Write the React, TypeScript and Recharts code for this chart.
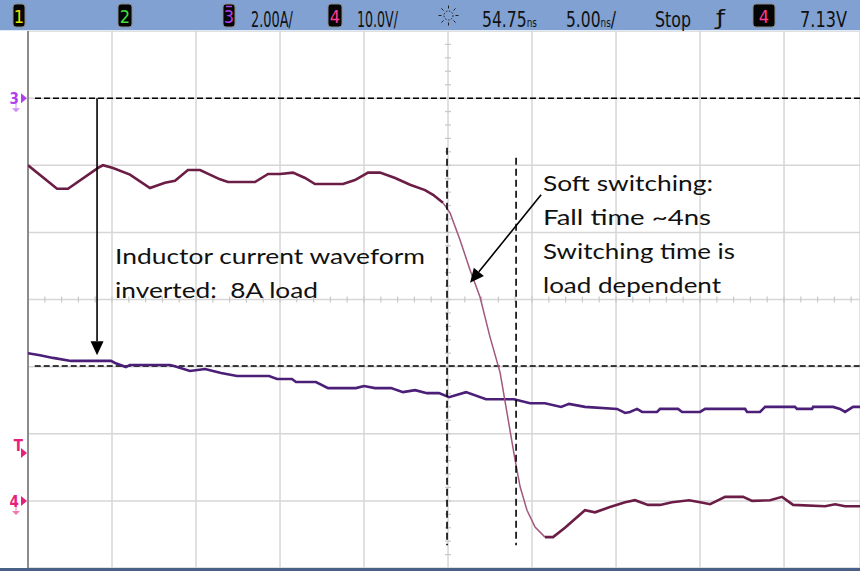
import React, { useLayoutEffect, useRef, useState } from "react";
import { LineChart, Line, XAxis, YAxis, CartesianGrid, ReferenceLine } from "recharts";

// time base: ns from trigger (5 ns/div), ch4 = switch node in V (10 V/div), ch3 = inverted inductor current in A (2 A/div)
const timeTicks = [-25, -20, -15, -10, -5, 0, 5, 10, 15, 20];
const ampTicks = [-14, -12, -10, -8, -6, -4, -2, 0, 2];

const vTime = [
  -25, -23.27, -22.62, -20.83, -20.54, -19.94, -18.93, -17.74, -16.85, -16.25, -15.48, -14.76,
  -13.57, -13.1, -11.49, -10.71, -10, -9.23, -8.51, -7.92, -6.25, -5.54, -4.76, -4.05, -3.15,
  -2.26, -1.37, -0.89, -0.3, 0.12, 0.71, 1.31, 1.9, 2.5, 3.1, 3.51, 3.99, 4.29, 4.7, 5.18, 5.77,
  6.25, 6.96, 8.15, 8.75, 9.64, 10.54, 11.13, 11.9, 12.62, 13.33, 14.35, 15, 15.6, 16.49, 17.56,
  18.1, 19.17, 19.88, 20.54, 22.44, 23.04, 23.63, 24.52,
];
const vVolts = [
  50, 46.5, 46.5, 49.6, 50, 49.6, 48.6, 46.6, 47.4, 47.7, 49.3, 49.3, 47.9, 47.5, 47.5, 48.7, 48.7,
  48.9, 48.1, 47.2, 47.2, 47.8, 48.9, 48.9, 48.1, 47.1, 46.3, 45.6, 44.4, 42.9, 38.9, 34.4, 30.4,
  24.4, 19.1, 13.1, 6.1, 2.1, -1.4, -3.9, -5.4, -5.4, -4.0, -1.4, -1.7, -0.9, -0.2, 0.1, -0.6, -0.6,
  -0.2, 0.1, -0.2, -0.5, 0.6, 0.6, 0.0, 0.1, 0.6, -0.6, -0.8, -0.5, -0.8, -0.8,
];

const iTime = [
  -25, -24.29, -23.51, -22.44, -20.06, -19.82, -19.17, -18.93, -16.55, -16.31, -15.36, -14.46,
  -13.51, -12.56, -10.65, -10.18, -9.29, -9.05, -7.86, -7.14, -5.48, -5.0, -4.35, -3.39, -2.68,
  -1.96, -1.25, -0.54, 0.06, 1.07, 2.26, 3.93, 4.88, 5.77, 6.73, 7.2, 8.15, 10.06, 10.54, 10.83,
  11.25, 11.55, 12.44, 12.62, 13.69, 13.93, 15.0, 15.3, 17.68, 17.8, 18.57, 18.87, 20.65, 20.77,
  21.67, 21.73, 22.92, 23.33, 23.63, 24.11, 24.52,
];
const iAmps = [
  -7.6, -7.66, -7.74, -7.83, -7.83, -7.89, -8.01, -7.95, -7.95, -7.98, -8.13, -8.07, -8.19, -8.28,
  -8.28, -8.37, -8.37, -8.46, -8.46, -8.64, -8.64, -8.58, -8.64, -8.64, -8.76, -8.7, -8.79, -8.79,
  -8.91, -8.76, -8.97, -8.97, -9.09, -9.09, -9.2, -9.11, -9.2, -9.26, -9.38, -9.35, -9.26, -9.35,
  -9.35, -9.26, -9.26, -9.35, -9.35, -9.26, -9.26, -9.35, -9.35, -9.2, -9.2, -9.26, -9.26, -9.2,
  -9.2, -9.26, -9.35, -9.2, -9.2,
];

const EDGE_START = -0.3;
const EDGE_END = 5.77;
const TRIG_LEVEL = 7.13;
const LOAD_AMPS = -7.98;

const VTRACE = "#6c1d46";
const ITRACE = "#4b1f78";
const CH3 = "#b040ee";
const CH4 = "#e8207c";
const ORANGE = "#f08a1c";

const arrowShape = (p: any) => {
  const { x1, y1, x2, y2 } = p;
  const a = Math.atan2(y2 - y1, x2 - x1);
  const len = 14;
  const half = 6.5;
  const bx = x2 - len * Math.cos(a);
  const by = y2 - len * Math.sin(a);
  const nx = -Math.sin(a) * half;
  const ny = Math.cos(a) * half;
  return (
    <g>
      <line x1={x1} y1={y1} x2={bx} y2={by} stroke="#000" strokeWidth={1.6} />
      <polygon points={`${x2},${y2} ${bx + nx},${by + ny} ${bx - nx},${by - ny}`} fill="#000" />
    </g>
  );
};

// channel ground / trigger markers drawn on the left edge of the graticule
const chMarker = (label: string, color: string, dashed: boolean, ground: boolean) => (p: any) => {
  const { x1, y1, x2 } = p;
  const isT = label === "T";
  return (
    <g>
      {dashed && (
        <line x1={x1 + 7} y1={y1} x2={x2} y2={y1} stroke="#000" strokeWidth={1.5} strokeDasharray="6 3" />
      )}
      <text
        x={x1 - (isT ? 5 : 9)}
        y={isT ? y1 - 2 : y1 + 6}
        textAnchor="end"
        fontSize={15}
        fontWeight="bold"
        fontFamily="DejaVu Sans Condensed, sans-serif"
        fill={color}
      >
        {label}
      </text>
      <polygon points={`${x1 - 7},${y1 - 5} ${x1 - 1},${y1} ${x1 - 7},${y1 + 5}`} fill={color} />
      {ground && (
        <g stroke={color} strokeOpacity={0.6} fill={color} fillOpacity={0.6}>
          <line x1={x1 - 12} y1={y1 + 5} x2={x1 - 12} y2={y1 + 10} strokeWidth={1} />
          <polygon points={`${x1 - 16},${y1 + 10} ${x1 - 8},${y1 + 10} ${x1 - 12},${y1 + 14}`} stroke="none" />
        </g>
      )}
    </g>
  );
};

const leftEdge = (p: any) => {
  const { x1, y1, y2 } = p;
  return (
    <g>
      <line x1={x1} y1={y1} x2={x1} y2={y2} stroke="#8c8c8c" strokeWidth={2} />
      <path d={`M${x1 + 1},${y1} L${x1 + 6},${y1} L${x1 + 6},${y1 + 2} L${x1 + 3},${y1 + 2} L${x1 + 3},${y1 + 6} L${x1 + 1},${y1 + 6} Z`} fill={ORANGE} />
    </g>
  );
};

// center graticule lines carry minor ticks (5 per division)
const centerV = (p: any) => {
  const { x1, y1, y2 } = p;
  const step = (y2 - y1) / 40;
  const ticks = [];
  for (let k = 1; k < 40; k++) {
    const y = y1 + k * step;
    ticks.push(<line key={k} x1={x1 - 3} x2={x1 + 3} y1={y} y2={y} stroke="#c8c8c8" strokeWidth={1.2} />);
  }
  return (
    <g>
      {ticks}
      <path d={`M${x1 - 5},${y1 + 1} L${x1 + 4},${y1 + 1} L${x1 - 0.5},${y1 + 8} Z`} fill="none" stroke={ORANGE} strokeWidth={1.5} />
    </g>
  );
};

const centerH = (p: any) => {
  const { x1, x2, y1 } = p;
  const step = 16.8;
  const ticks = [];
  for (let x = x1 + step, k = 0; x < x2; x += step, k++) {
    ticks.push(<line key={k} x1={x} x2={x} y1={y1 - 3} y2={y1 + 3} stroke="#c8c8c8" strokeWidth={1.2} />);
  }
  return <g>{ticks}</g>;
};

const HF = "Liberation Sans Narrow, DejaVu Sans Condensed, sans-serif";

// header text squeezed horizontally to the scope font's width
function FitText({ x, y, w, size = 21, children }: any) {
  const ref = useRef<SVGTextElement>(null);
  const [k, setK] = useState(1);
  useLayoutEffect(() => {
    const n = ref.current ? ref.current.getComputedTextLength() : 0;
    if (n > 0) setK(w / n);
  }, [w]);
  return (
    <text ref={ref} transform={`translate(${x},${y}) scale(${k},1)`} fontFamily={HF} fontSize={size} fill="#111">
      {children}
    </text>
  );
}

const chBox = (x: number, w: number, label: string, color: string, bar = false) => (
  <g key={label + x}>
    <rect x={x} y={4} width={w} height={23} rx={3} fill="#050505" stroke="#8a8a8a" strokeWidth={1} />
    <text x={x + w / 2} y={23} textAnchor="middle" fontSize={18} fontFamily={HF} fill={color}>
      {label}
    </text>
    {bar && <line x1={x + 3} x2={x + w - 3} y1={6.5} y2={6.5} stroke={color} strokeWidth={1.5} />}
  </g>
);

function Header() {
  const rays = [];
  for (let k = 0; k < 8; k++) {
    const a = (k * Math.PI) / 4;
    rays.push(
      <line key={k} x1={448.5 + 7 * Math.cos(a)} y1={15.5 + 7 * Math.sin(a)} x2={448.5 + 10 * Math.cos(a)} y2={15.5 + 10 * Math.sin(a)} stroke="#222" strokeWidth={1} />
    );
  }
  return (
    <svg width={860} height={31} style={{ position: "absolute", left: 0, top: 0 }}>
      <rect x={0} y={0} width={860} height={31} fill="#80a1d2" />
      <line x1={0} x2={860} y1={30.5} y2={30.5} stroke="#dfe8f5" strokeWidth={1} />
      {chBox(13, 12, "1", "#e6e600")}
      {chBox(118, 14, "2", "#3ee03e")}
      {chBox(223, 12, "3", CH3, true)}
      {chBox(328, 14, "4", "#ff3a96")}
      <FitText x={251} y={26.5} w={42}>2.00A/</FitText>
      <FitText x={357} y={26.5} w={41}>10.0V/</FitText>
      <FitText x={482} y={26.5} w={55}>
        54.75<tspan fontSize={12}>ns</tspan>
      </FitText>
      <FitText x={566} y={26.5} w={50}>
        5.00<tspan fontSize={12}>ns</tspan>/
      </FitText>
      <FitText x={655} y={26.5} w={36}>Stop</FitText>
      <FitText x={716} y={25} w={9}>ƒ</FitText>
      <FitText x={800} y={26.5} w={47}>7.13V</FitText>
      {chBox(753, 22, "4", "#ff3a96")}
      <circle cx={448.5} cy={15.5} r={4.5} fill="none" stroke="#222" strokeWidth={1} strokeDasharray="1.5 1.5" />
      {rays}
    </svg>
  );
}

const NOTE_FONT = "Lato, 'Open Sans', sans-serif";

function Notes() {
  const t = (x: number, y: number, w: number, s: string) => (
    <text x={x} y={y} textLength={w} lengthAdjust="spacingAndGlyphs" style={{ whiteSpace: "pre" }}>
      {s}
    </text>
  );
  return (
    <svg width={860} height={571} style={{ position: "absolute", left: 0, top: 0, pointerEvents: "none" }}>
      <g fontFamily={NOTE_FONT} fontSize={21.5} fill="#111">
        {t(115, 264, 310, "Inductor current waveform")}
        {t(115, 298, 203, "inverted:  8A load")}
        {t(543, 191, 170, "Soft switching:")}
        {t(543, 225, 168, "Fall time ~4ns")}
        {t(543, 259, 192, "Switching time is")}
        {t(543, 293, 178, "load dependent")}
      </g>
      <rect x={0} y={568} width={860} height={3} fill="#4a6088" />
    </svg>
  );
}

export default function App() {
  const vData = vTime.map((t, k) => ({ t, v: vVolts[k] }));
  const vBefore = vData.filter((d) => d.t <= EDGE_START);
  const vEdge = vData.filter((d) => d.t >= EDGE_START && d.t <= EDGE_END);
  const vAfter = vData.filter((d) => d.t >= EDGE_END);
  const iData = iTime.map((t, k) => ({ t, i: iAmps[k] }));

  return (
    <div style={{ position: "absolute", left: 0, top: 0, width: 860, height: 571, background: "#fff", overflow: "hidden" }}>
      <LineChart width={860} height={571} margin={{ top: 31, right: 0, bottom: 3, left: 28 }}>
        <XAxis dataKey="t" type="number" domain={[-25, 24.52]} ticks={timeTicks} allowDataOverflow hide />
        <YAxis yAxisId="i" type="number" domain={[-14, 2]} ticks={ampTicks} allowDataOverflow hide />
        <YAxis yAxisId="v" type="number" domain={[-10, 70]} allowDataOverflow hide />
        <CartesianGrid yAxisId="i" stroke="#d6d6d6" strokeWidth={1.5} />
        <ReferenceLine x={-25} yAxisId="i" shape={leftEdge} />
        <ReferenceLine x={0} yAxisId="i" shape={centerV} />
        <ReferenceLine y={-6} yAxisId="i" shape={centerH} />

        <ReferenceLine y={0} yAxisId="i" shape={chMarker("3", CH3, true, true)} />
        <ReferenceLine
          yAxisId="i"
          segment={[{ x: -24.6, y: LOAD_AMPS }, { x: 24.52, y: LOAD_AMPS }]}
          stroke="#000"
          strokeWidth={1.5}
          strokeDasharray="6 3"
        />
        <ReferenceLine y={TRIG_LEVEL} yAxisId="v" shape={chMarker("T", CH4, false, false)} />
        <ReferenceLine y={0} yAxisId="v" shape={chMarker("4", CH4, false, true)} />

        <Line data={iData} dataKey="i" yAxisId="i" type="linear" stroke={ITRACE} strokeWidth={2.6} dot={false} isAnimationActive={false} />
        <Line data={vBefore} dataKey="v" yAxisId="v" type="linear" stroke={VTRACE} strokeWidth={2.6} dot={false} isAnimationActive={false} />
        <Line data={vEdge} dataKey="v" yAxisId="v" type="linear" stroke="#a0587e" strokeWidth={1.5} dot={false} isAnimationActive={false} />
        <Line data={vAfter} dataKey="v" yAxisId="v" type="linear" stroke={VTRACE} strokeWidth={2.6} dot={false} isAnimationActive={false} />

        <ReferenceLine
          yAxisId="v"
          segment={[{ x: -0.06, y: 52.6 }, { x: -0.06, y: -6.6 }]}
          stroke="#000"
          strokeWidth={1.6}
          strokeDasharray="7 4"
        />
        <ReferenceLine
          yAxisId="v"
          segment={[{ x: 4.05, y: 51.1 }, { x: 4.05, y: -6.6 }]}
          stroke="#000"
          strokeWidth={1.6}
          strokeDasharray="7 4"
        />
        <ReferenceLine yAxisId="i" segment={[{ x: -20.89, y: 0 }, { x: -20.89, y: -7.66 }]} shape={arrowShape} />
        <ReferenceLine yAxisId="v" segment={[{ x: 5.54, y: 45.6 }, { x: 1.31, y: 32.5 }]} shape={arrowShape} />
      </LineChart>
      <Header />
      <Notes />
    </div>
  );
}
